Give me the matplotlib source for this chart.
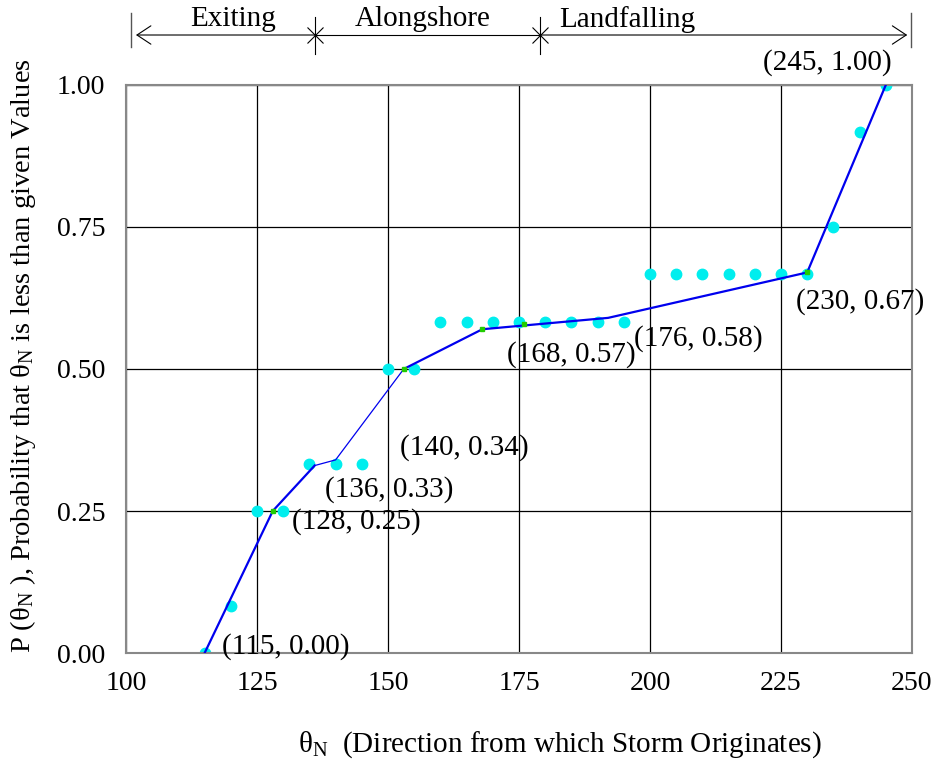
import matplotlib
matplotlib.use("Agg")
import matplotlib.pyplot as plt
import matplotlib.transforms as mtransforms

plt.rcParams['font.family'] = ['Liberation Serif', 'DejaVu Serif']
plt.rcParams['mathtext.fontset'] = 'custom'
plt.rcParams['mathtext.rm'] = 'Liberation Serif'
plt.rcParams['mathtext.it'] = 'Liberation Serif:italic'

# observed storm directions (cumulative probability)
theta_obs = [115, 120, 125, 130, 135, 140, 145, 150, 155,
             160, 165, 170, 175, 180, 185, 190, 195,
             200, 205, 210, 215, 220, 225, 230,
             235, 240, 245]
prob_obs = [0.0, 0.083, 0.25, 0.25, 0.333, 0.333, 0.333, 0.5, 0.5,
            0.583, 0.583, 0.583, 0.583, 0.583, 0.583, 0.583, 0.583,
            0.667, 0.667, 0.667, 0.667, 0.667, 0.667, 0.667,
            0.75, 0.917, 1.0]

# piecewise fit
fit_a_theta = [115, 128, 136]
fit_a_prob = [0.0, 0.25, 0.33]
fit_b_theta = [136, 140, 153]
fit_b_prob = [0.33, 0.34, 0.50]
fit_c_theta = [153, 168, 192, 230, 245]
fit_c_prob = [0.50, 0.57, 0.59, 0.67, 1.0]

mark_theta = [128, 153, 168, 176, 230]
mark_prob = [0.25, 0.50, 0.57, 0.58, 0.67]

label_text = ["(115, 0.00)", "(128, 0.25)", "(136, 0.33)", "(140, 0.34)",
              "(168, 0.57)", "(176, 0.58)", "(230, 0.67)", "(245, 1.00)"]
label_x = [118.3, 131.7, 138.0, 152.2, 172.8, 196.9, 227.8, 221.5]
label_y = [0.012, 0.231, 0.287, 0.361, 0.526, 0.553, 0.618, 1.039]

zone_names = ["Exiting", "Alongshore", "Landfalling"]
zone_centers = [120.5, 156.6, 195.7]
zone_edges = [101, 136, 179, 250]

fig = plt.figure(figsize=(9.37, 7.65), dpi=100)
ax = fig.add_axes([0.1345, 0.1464, 0.8388, 0.7425])

ax.plot(theta_obs, prob_obs, 'o', color='#00eeee', markersize=7.5, zorder=2)
ax.plot(fit_a_theta, fit_a_prob, color='#0000ee', lw=1.6, zorder=3)
ax.plot(fit_b_theta, fit_b_prob, color='#0000ee', lw=0.9, zorder=3)
ax.plot(fit_c_theta, fit_c_prob, color='#0000ee', lw=1.6, zorder=3)
ax.plot(mark_theta, mark_prob, 's', color='#22cc00', markersize=2.5, zorder=4)

for t, x, y in zip(label_text, label_x, label_y):
    ax.text(x, y, t, fontsize=21, ha='left', va='center', clip_on=False)

ax.set_xlim(100, 250)
ax.set_ylim(0, 1)
ax.set_xticks([100, 125, 150, 175, 200, 225, 250])
ax.set_yticks([0, 0.25, 0.5, 0.75, 1.0])
ax.set_yticklabels(["0.00", "0.25", "0.50", "0.75", "1.00"])
ax.tick_params(length=0, labelsize=20)
ax.tick_params(axis='x', pad=13)
ax.tick_params(axis='y', pad=15)
ax.grid(True, color='black', lw=0.9)
ax.set_axisbelow(True)
for s in ax.spines.values():
    s.set_color('#888888')
    s.set_linewidth(1.5)

ax.set_xlabel(r"θ$_{\mathrm{N}}$  (Direction from which Storm Originates)", fontsize=21)
ax.xaxis.set_label_coords(0.552, -0.162)
ax.xaxis.label.set_va('center')
ax.set_ylabel(r"P (θ$_{\mathrm{N}}$ ), Probability that θ$_{\mathrm{N}}$ is less than given Values",
              fontsize=20.5)
ax.yaxis.set_label_coords(-0.131, 0.523)
ax.yaxis.label.set_va('center')

# zone arrows above the plot
trans = mtransforms.blended_transform_factory(ax.transData, ax.transAxes)
ya = 1.088
for e in [zone_edges[0], zone_edges[-1] - 0.2]:
    ax.plot([e, e], [1.067, 1.127], color='#555555', lw=1, transform=trans, clip_on=False)
for e in zone_edges[1:3]:
    ax.plot([e, e], [1.055, 1.12], color='black', lw=0.8, transform=trans, clip_on=False)
    ax.plot([e], [ya], marker='x', color='black', markersize=11, mew=0.8,
            transform=trans, clip_on=False)
head = '->,head_length=0.5,head_width=0.33'
ax.annotate("", xy=(zone_edges[0] + 0.9, ya), xytext=(zone_edges[1], ya),
            xycoords=trans, textcoords=trans,
            arrowprops=dict(arrowstyle=head, color='black', lw=0.8, mutation_scale=20,
                            shrinkA=0, shrinkB=0))
ax.plot([zone_edges[1], zone_edges[2]], [ya, ya], color='black', lw=0.8,
        transform=trans, clip_on=False)
ax.annotate("", xy=(zone_edges[3] - 0.9, ya), xytext=(zone_edges[2], ya),
            xycoords=trans, textcoords=trans,
            arrowprops=dict(arrowstyle=head, color='black', lw=0.8, mutation_scale=20,
                            shrinkA=0, shrinkB=0))
for name, xc in zip(zone_names, zone_centers):
    ax.text(xc, 1.116, name, fontsize=21, ha='center', va='center',
            transform=trans, clip_on=False)

fig.savefig("out.png", dpi=100)
